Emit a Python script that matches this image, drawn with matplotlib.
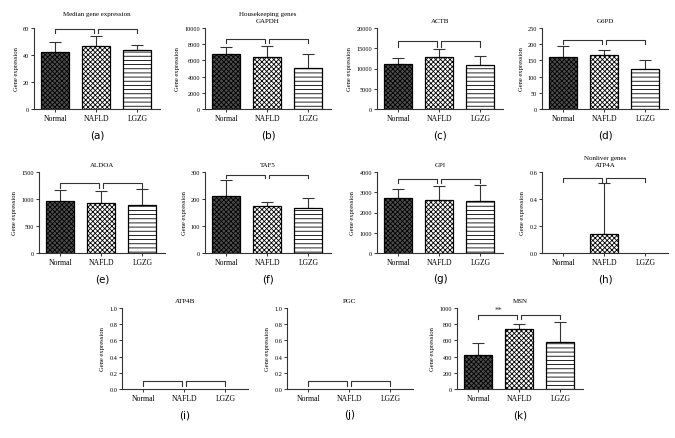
import matplotlib
matplotlib.use("Agg")
import matplotlib.pyplot as plt

plt.rcParams["font.family"] = ["Liberation Serif", "DejaVu Serif"]
plt.rcParams["hatch.linewidth"] = 0.6

groups = ["Normal", "NAFLD", "LGZG"]

# bar means and upper error (SD)
median_vals = [42.5, 47, 44]
median_err = [7, 7, 3.5]
gapdh_vals = [6800, 6450, 5100]
gapdh_err = [850, 1300, 1650]
actb_vals = [11100, 12900, 10800]
actb_err = [1600, 1800, 2400]
g6pd_vals = [160, 168, 124]
g6pd_err = [33, 15, 27]
aldoa_vals = [960, 935, 885]
aldoa_err = [200, 215, 295]
taf5_vals = [212, 175, 168]
taf5_err = [58, 13, 34]
gpi_vals = [2700, 2640, 2550]
gpi_err = [470, 660, 820]
atp4a_vals = [0, 0.14, 0]
atp4a_err = [0, 0.38, 0]
atp4b_vals = [0, 0, 0]
atp4b_err = [0, 0, 0]
pgc_vals = [0, 0, 0]
pgc_err = [0, 0, 0]
msn_vals = [420, 740, 585]
msn_err = [150, 60, 240]

titles = ["Median gene expression\n ", "Housekeeping genes\nGAPDH", "ACTB", "G6PD",
          "ALDOA", "TAF5", "GPI", "Nonliver genes\nATP4A",
          "ATP4B", "PGC", "MSN"]
panel_labels = ["(a)", "(b)", "(c)", "(d)", "(e)", "(f)", "(g)", "(h)", "(i)", "(j)", "(k)"]
values = [median_vals, gapdh_vals, actb_vals, g6pd_vals, aldoa_vals, taf5_vals,
          gpi_vals, atp4a_vals, atp4b_vals, pgc_vals, msn_vals]
errors = [median_err, gapdh_err, actb_err, g6pd_err, aldoa_err, taf5_err,
          gpi_err, atp4a_err, atp4b_err, pgc_err, msn_err]
y_max = [60, 10000, 20000, 250, 1500, 300, 4000, 0.6, 1.0, 1.0, 1000]
y_step = [20, 2000, 5000, 50, 500, 100, 1000, 0.2, 0.2, 0.2, 200]
y_fmt = ["{:.0f}"] * 7 + ["{:.1f}"] * 3 + ["{:.0f}"]
# bracket heights (top line, leg end)
bracket_top = [59.3, 8640, 16670, 214, 1302, 290, 3638, 0.558, 0.095, 0.095, 917]
bracket_low = [56.3, 8150, 15400, 201, 1204, 278, 3457, 0.527, 0.04, 0.04, 863]
star_text = [""] * 10 + ["**"]

# panel positions in pixels (left, top)
W, H = 675, 439
pos = [(34, 29), (205, 29), (377, 29), (542, 29),
       (39, 173), (205, 173), (377, 173), (542, 173),
       (122, 309), (287, 309), (457, 309)]
aw, ah = 126, 81

face = ["#4d4d4d", "white", "white"]
hatch = ["xxxxxxx", "xxxxxxx", "----"]
line_col = "#333333"

fig = plt.figure(figsize=(W / 100, H / 100), dpi=100)

for i in range(11):
    left, top = pos[i]
    ax = fig.add_axes([left / W, 1 - (top + ah) / H, aw / W, ah / H])
    x = [0, 1, 2]
    for j in range(3):
        v = values[i][j]
        if v > 0:
            ax.bar(x[j], v, width=0.68, color=face[j], edgecolor="black",
                   hatch=hatch[j], linewidth=0.9, zorder=2)
            ax.errorbar(x[j], v, yerr=[[0], [errors[i][j]]], fmt="none",
                        ecolor=line_col, elinewidth=0.8, capsize=4.5,
                        capthick=0.8, zorder=1)
    # significance brackets
    t, b = bracket_top[i], bracket_low[i]
    ax.plot([0, 0, 0.95, 0.95], [b, t, t, b], color=line_col, lw=0.8, clip_on=False)
    ax.plot([1.05, 1.05, 2, 2], [b, t, t, b], color=line_col, lw=0.8, clip_on=False)
    if star_text[i]:
        ax.text(0.5, t + 0.01 * y_max[i], star_text[i], ha="center", va="bottom",
                fontsize=5.5, color=line_col)

    ax.set_xlim(-0.52, 2.55)
    ax.set_ylim(0, y_max[i])
    ticks = [k * y_step[i] for k in range(int(round(y_max[i] / y_step[i])) + 1)]
    ax.set_yticks(ticks)
    ax.set_yticklabels([y_fmt[i].format(tk) for tk in ticks], fontsize=4.5)
    ax.set_xticks(x)
    ax.set_xticklabels(groups, fontsize=5.5)
    ax.tick_params(length=2, width=0.7, color=line_col, pad=1.5)
    for s in ["top", "right"]:
        ax.spines[s].set_visible(False)
    for s in ["left", "bottom"]:
        ax.spines[s].set_linewidth(0.8)
        ax.spines[s].set_color(line_col)
    ax.set_ylabel("Gene expression", fontsize=4.8, labelpad=3)
    ax.set_title(titles[i], fontsize=5, pad=4.5, linespacing=1.5)
    ax.text(0.5, -0.31, panel_labels[i], transform=ax.transAxes, ha="center",
            va="center", fontsize=7.5, family="DejaVu Sans")

fig.savefig("out.png", dpi=100)
